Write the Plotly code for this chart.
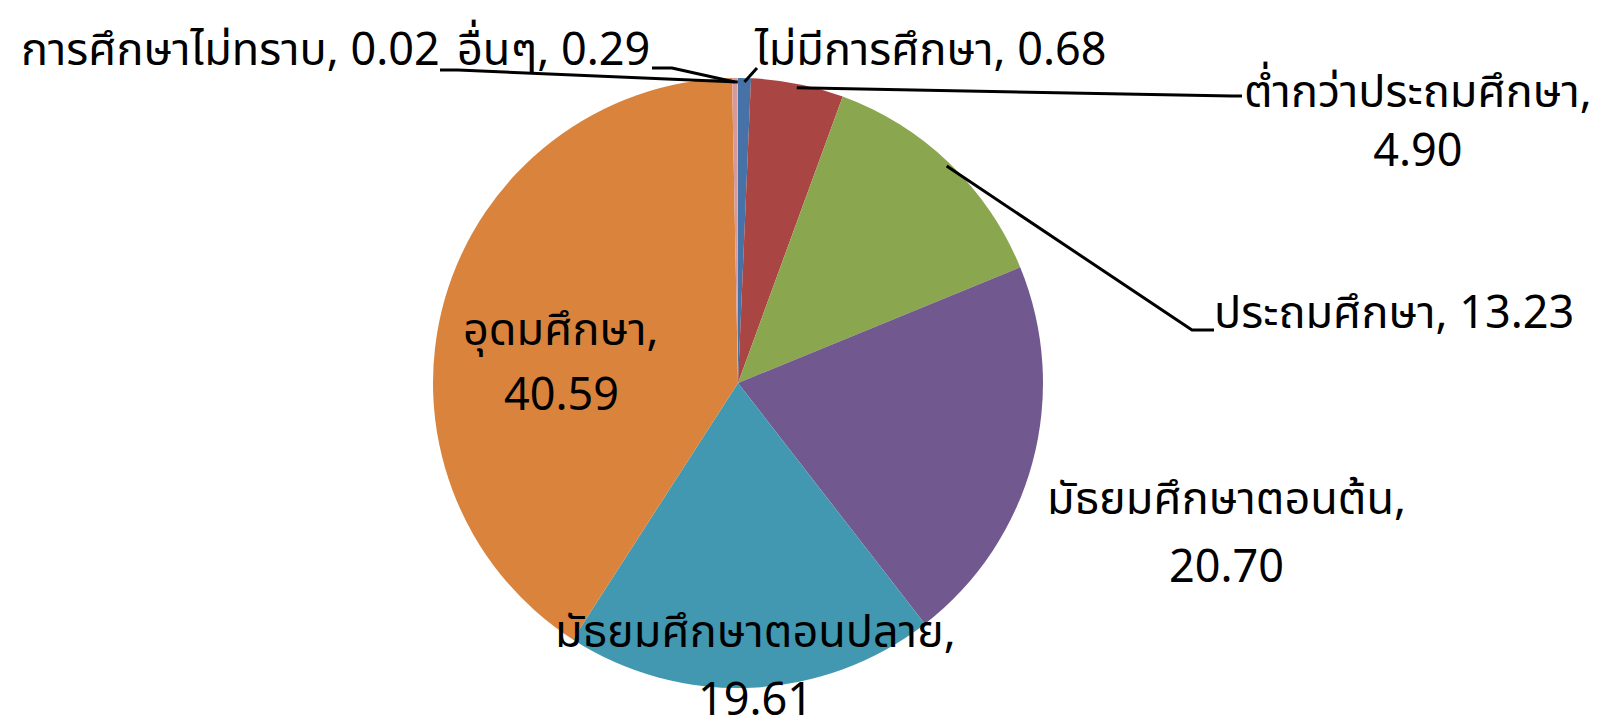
import math
import plotly.graph_objects as go

# ---- data ----
categories = ["ไม่มีการศึกษา", "ต่ำกว่าประถมศึกษา", "ประถมศึกษา", "มัธยมศึกษาตอนต้น",
              "มัธยมศึกษาตอนปลาย", "อุดมศึกษา", "อื่นๆ", "การศึกษาไม่ทราบ"]
values = [0.68, 4.90, 13.23, 20.70, 19.61, 40.59, 0.29, 0.02]
colors = ["#4672A8", "#A94543", "#8AA64E", "#71598F", "#4298B0", "#DA833C", "#D79A9A", "#B8CC94"]

# ---- layout constants (screen pixels) ----
W, H = 1607, 725
OFF = 8  # default page body margin offsets the figure
CX, CY, R = 738, 383, 305
FONT = "Noto Sans Thai, Noto Sans Thai Looped, Tahoma, Garuda, Loma, Noto Sans, sans-serif"
FS = 45

# label placement
# mode: "one" = single line, "br" = two lines in one box, "split" = two separate boxes
label_layout = {
    "ไม่มีการศึกษา": dict(mode="one", x=752, y=51, xa="left", lead=[(757, 68)]),
    "ต่ำกว่าประถมศึกษา": dict(mode="br", x=1418, y=122, xa="center", lead=[(1232, 96), (1242, 96)]),
    "ประถมศึกษา": dict(mode="one", x=1212, y=314, xa="left", lead=[(1192, 330), (1214, 330)]),
    "มัธยมศึกษาตอนต้น": dict(mode="split", x=1226, y=500, xa="center", gap=68, lead=None),
    "มัธยมศึกษาตอนปลาย": dict(mode="split", x=755, y=633, xa="center", gap=68, lead=None),
    "อุดมศึกษา": dict(mode="split", x=561, y=331, xa="center", gap=65, lead=None),
    "อื่นๆ": dict(mode="one", x=652, y=51, xa="right", lead=[(672, 68), (652, 68)]),
    "การศึกษาไม่ทราบ": dict(mode="one", x=442, y=51, xa="right", lead=[(458, 70), (440, 70)]),
}


def px(x):
    return (x - OFF) / W


def py(y):
    return 1 - (y - OFF) / H


total = sum(values)


def slice_point(i, r):
    before = sum(values[:i])
    f = (before + values[i] / 2) / total
    th = 2 * math.pi * f
    return CX + r * math.sin(th), CY - r * math.cos(th)


fig = go.Figure(go.Pie(
    labels=categories,
    values=values,
    sort=False,
    direction="clockwise",
    rotation=0,
    marker=dict(colors=colors, line=dict(width=0)),
    textinfo="none",
    hoverinfo="label+value",
    domain=dict(x=[px(CX - R), px(CX + R)], y=[py(CY + R), py(CY - R)]),
    showlegend=False,
))

annotations = []
shapes = []


def add_text(t, x, y, xa):
    annotations.append(dict(text=t, x=px(x), y=py(y), xref="paper", yref="paper",
                            xanchor=xa, yanchor="middle", showarrow=False,
                            font=dict(family=FONT, size=FS, color="black")))


for i, (cat, val) in enumerate(zip(categories, values)):
    L = label_layout[cat]
    vtxt = f"{val:.2f}"
    if L["mode"] == "split":
        for k, t in enumerate([cat + ",", vtxt]):
            add_text(t, L["x"], L["y"] + k * L["gap"], L["xa"])
    elif L["mode"] == "br":
        add_text(f"{cat},<br>{vtxt}", L["x"], L["y"], L["xa"])
    else:
        add_text(f"{cat}, {vtxt}", L["x"], L["y"], L["xa"])
    if L["lead"]:
        sx, sy = slice_point(i, R - 4)
        pts = [(sx, sy)] + L["lead"]
        path = "M " + " L ".join(f"{px(a):.5f},{py(b):.5f}" for a, b in pts)
        shapes.append(dict(type="path", path=path, xref="paper", yref="paper",
                           line=dict(color="black", width=3)))

fig.update_layout(
    width=W, height=H,
    margin=dict(l=0, r=0, t=0, b=0),
    paper_bgcolor="white", plot_bgcolor="white",
    annotations=annotations,
    shapes=shapes,
)

fig.write_html("out.html")
